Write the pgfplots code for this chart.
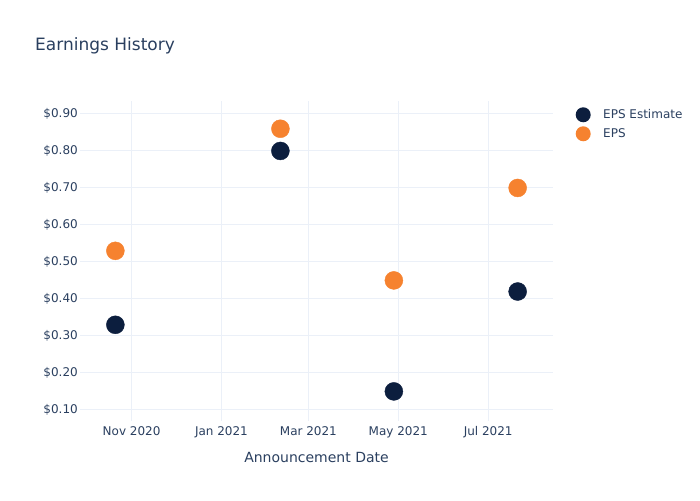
\documentclass[border=0pt]{standalone}
\usepackage{pgfplots}
\pgfplotsset{compat=1.18}
\usepackage{fontspec}
\setmainfont{DejaVu Sans}
\definecolor{tickc}{HTML}{2A3F5F}
\definecolor{gridc}{HTML}{EBF0F8}
\definecolor{navy}{HTML}{0C1E3E}
\definecolor{orng}{HTML}{F6822F}
\begin{document}
\begin{tikzpicture}[x=1pt,y=1pt]
\path[use as bounding box] (0,0) rectangle (700,500);
\node[anchor=base west, font=\fontsize{17}{20}\selectfont, text=tickc, inner sep=0] at (35,449) {Earnings History};
\begin{axis}[
  at={(80pt,79pt)}, anchor=south west,
  scale only axis, width=473pt, height=320pt,
  xmin=-35, xmax=286, ymin=0.07, ymax=0.935,
  axis line style={draw=none}, tick style={draw=none},
  grid=major, grid style={gridc, line width=1pt},
  xtick={0,61,120,181,242},
  xticklabels={Nov 2020, Jan 2021, Mar 2021, May 2021, Jul 2021},
  ytick={0.1,0.2,0.3,0.4,0.5,0.6,0.7,0.8,0.9},
  yticklabel={\$\pgfmathprintnumber[fixed,fixed zerofill,precision=2]{\tick}},
  /pgf/number format/assume math mode=true,
  ticklabel style={font=\fontsize{12}{14}\selectfont, text=tickc},
  xticklabel style={anchor=base, yshift=-14pt, inner sep=0},
  yticklabel style={anchor=east, xshift=-2pt, inner sep=0},
  xlabel={Announcement Date},
  xlabel style={at={(rel axis cs:0.5,0)}, anchor=base, yshift=-41pt, inner sep=0, font=\fontsize{14}{16}\selectfont, text=tickc},
  legend style={at={(1.0465,0.981)}, anchor=north west, draw=none, fill=none, font=\fontsize{12}{14}\selectfont, text=tickc, row sep=4pt, inner sep=0},
  legend cell align=left,
  legend image code/.code={\pgfpathcircle{\pgfpoint{8pt}{0pt}}{7.5pt}\pgfusepath{fill}\pgfpathrectangle{\pgfpoint{0pt}{-1pt}}{\pgfpoint{26pt}{2pt}}\pgfusepath{}},
  clip=false,
]
\addplot[only marks, mark=*, mark size=9pt, color=navy, draw=navy, fill=navy] coordinates {(-11,0.33) (101,0.80) (178,0.15) (262,0.42)};
\addlegendentry{EPS Estimate}
\addplot[only marks, mark=*, mark size=9pt, color=orng, draw=orng, fill=orng] coordinates {(-11,0.53) (101,0.86) (178,0.45) (262,0.70)};
\addlegendentry{EPS}
\end{axis}
\end{tikzpicture}
\end{document}
